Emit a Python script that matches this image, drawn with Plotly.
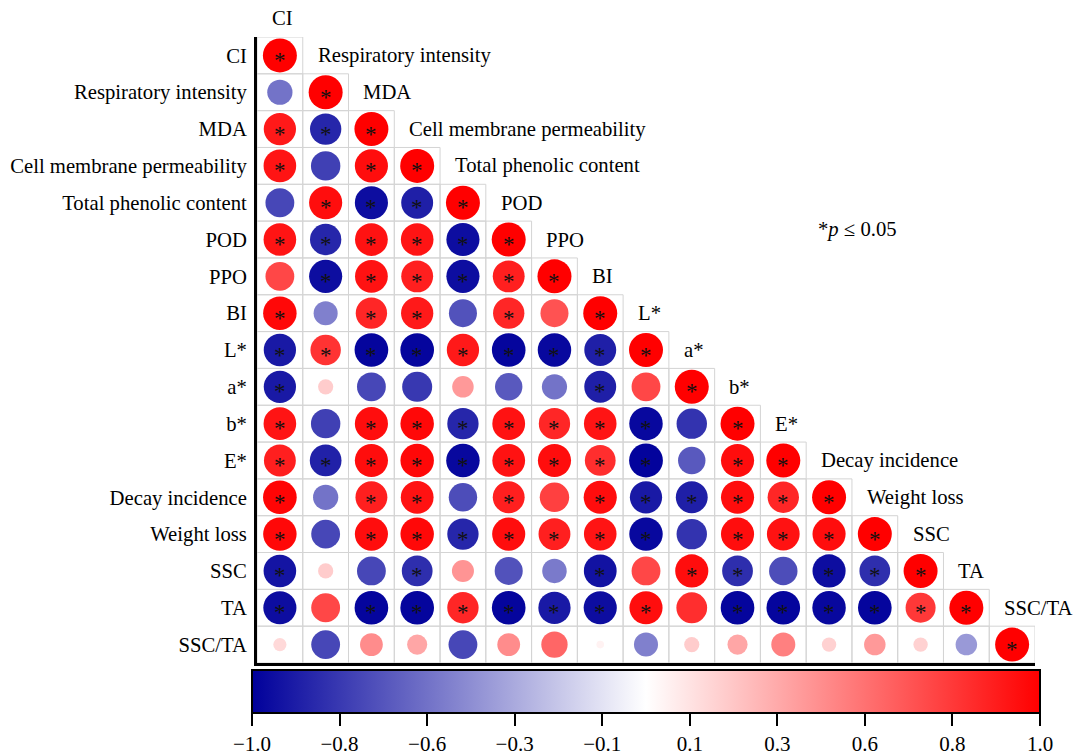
import numpy as np
import plotly.graph_objects as go

variables = ["CI", "Respiratory intensity", "MDA", "Cell membrane permeability",
             "Total phenolic content", "POD", "PPO", "BI", "L*", "a*", "b*", "E*",
             "Decay incidence", "Weight loss", "SSC", "TA", "SSC/TA"]

# lower triangle correlations (row i, columns 0..i-1); diagonal = 1
r_RI = [-0.55]
r_MDA = [0.90, -0.85]
r_CMP = [0.92, -0.75, 0.95]
r_TPC = [-0.72, 0.95, -0.95, -0.88]
r_POD = [0.92, -0.85, 0.93, 0.92, -0.95]
r_PPO = [0.72, -0.95, 0.93, 0.88, -0.95, 0.88]
r_BI = [0.97, -0.50, 0.85, 0.90, -0.68, 0.85, 0.68]
r_L = [-0.90, 0.80, -0.98, -0.98, 0.90, -0.98, -0.97, -0.88]
r_a = [-0.90, 0.20, -0.72, -0.78, 0.40, -0.65, -0.55, -0.88, 0.72]
r_b = [0.92, -0.75, 0.95, 0.97, -0.85, 0.93, 0.85, 0.92, -0.97, -0.80]
r_E = [0.88, -0.87, 0.95, 0.97, -0.97, 0.93, 0.95, 0.82, -0.99, -0.65, 0.95]
r_DI = [0.98, -0.55, 0.88, 0.93, -0.70, 0.88, 0.75, 0.95, -0.90, -0.88, 0.95, 0.85]
r_WL = [0.97, -0.72, 0.95, 0.97, -0.85, 0.95, 0.88, 0.92, -0.97, -0.80, 0.95, 0.93, 0.95]
r_SSC = [-0.92, 0.20, -0.72, -0.82, 0.42, -0.68, -0.52, -0.93, 0.72, 0.95, -0.82, -0.70, -0.95, -0.82]
r_TA = [-0.95, 0.72, -0.98, -0.98, 0.85, -0.98, -0.90, -0.95, 0.95, 0.82, -0.98, -0.98, -0.97, -0.98, 0.78]
r_SSCTA = [0.15, -0.72, 0.45, 0.35, -0.72, 0.45, 0.60, 0.05, -0.50, 0.20, 0.35, 0.50, 0.18, 0.40, 0.18, -0.40]

# significance (p <= 0.05) flags, same layout as above
s_RI = "0"
s_MDA = "11"
s_CMP = "101"
s_TPC = "0111"
s_POD = "11111"
s_PPO = "011111"
s_BI = "1011010"
s_L = "11111111"
s_a = "100000010"
s_b = "1011111110"
s_E = "11111111101"
s_DI = "101101011111"
s_WL = "1011111110111"
s_SSC = "10010001011011"
s_TA = "101111111011111"
s_SSCTA = "0000000000000000"

# colour bar tick labels
cbar_ticktext = ["−1.0", "−0.8", "−0.6", "−0.3", "−0.1", "0.1", "0.3", "0.6", "0.8", "1.0"]

rows_r = [[], r_RI, r_MDA, r_CMP, r_TPC, r_POD, r_PPO, r_BI, r_L, r_a, r_b, r_E,
          r_DI, r_WL, r_SSC, r_TA, r_SSCTA]
rows_s = ["", s_RI, s_MDA, s_CMP, s_TPC, s_POD, s_PPO, s_BI, s_L, s_a, s_b, s_E,
          s_DI, s_WL, s_SSC, s_TA, s_SSCTA]

xs, ys, vals, sig = [], [], [], []
for i, (rr, ss) in enumerate(zip(rows_r, rows_s)):
    for j in range(i + 1):
        v = 1.0 if j == i else rr[j]
        s = True if j == i else ss[j] == "1"
        xs.append(j); ys.append(i); vals.append(v); sig.append(s)

vals = np.array(vals)
sizes = 34 * np.sqrt(np.abs(vals))

colorscale = [[0.0, "rgb(0,0,155)"], [0.5, "rgb(255,255,255)"], [1.0, "rgb(255,0,0)"]]
font_family = "Liberation Serif"
label_size = 20.7

fig = go.Figure()

# grid cells
shapes = []
for x, y in zip(xs, ys):
    shapes.append(dict(type="rect", xref="x", yref="y", x0=x - 0.5, x1=x + 0.5,
                       y0=y - 0.5, y1=y + 0.5, line=dict(color="#d4d4d4", width=1),
                       layer="below"))

tickvals = np.linspace(-1, 1, len(cbar_ticktext))

fig.add_trace(go.Scatter(
    x=xs, y=ys, mode="markers",
    marker=dict(size=sizes, color=vals, cmin=-1, cmax=1, colorscale=colorscale,
                line=dict(width=0), opacity=1,
                colorbar=dict(orientation="h", x=0.5, xanchor="center", y=-0.0112,
                              yanchor="top", len=788, lenmode="pixels", thickness=43,
                              thicknessmode="pixels", outlinecolor="black", outlinewidth=2,
                              tickvals=tickvals, ticktext=cbar_ticktext, ticks="outside",
                              ticklen=12, tickwidth=1.5, tickcolor="black",
                              tickfont=dict(family=font_family, size=21, color="black"),
                              xpad=0, ypad=0)),
    hoverinfo="skip", showlegend=False))

annotations = []
# significance asterisks
for x, y, s in zip(xs, ys, sig):
    if s:
        annotations.append(dict(x=x, y=y, xref="x", yref="y", text="*", showarrow=False,
                                xanchor="center", yanchor="middle", yshift=-5,
                                font=dict(family=font_family, size=23, color="#111")))

# diagonal labels
for k, name in enumerate(variables):
    if k == 0:
        annotations.append(dict(x=k - 0.22, y=1.0303, xref="x", yref="paper", text=name,
                                showarrow=False, xanchor="left", yanchor="middle",
                                font=dict(family=font_family, size=label_size, color="black")))
    else:
        annotations.append(dict(x=k - 0.22, y=k - 1, xref="x", yref="y", text=name,
                                showarrow=False, xanchor="left", yanchor="middle",
                                font=dict(family=font_family, size=label_size, color="black")))
annotations.append(dict(x=0.772, y=0.693, xref="paper", yref="paper",
                        text="*<i>p</i> ≤ 0.05", showarrow=False,
                        xanchor="center", yanchor="middle",
                        font=dict(family=font_family, size=label_size, color="black")))

fig.update_layout(
    width=1073, height=756,
    margin=dict(l=257, r=38, t=37, b=93, autoexpand=False),
    paper_bgcolor="white", plot_bgcolor="white",
    shapes=shapes, annotations=annotations,
    xaxis=dict(range=[-0.5, 16.5], showgrid=False, zeroline=False, showticklabels=False,
               showline=True, linecolor="black", linewidth=3, ticks=""),
    yaxis=dict(range=[16.5, -0.5], showgrid=False, zeroline=False,
               tickvals=list(range(17)), ticktext=variables,
               tickfont=dict(family=font_family, size=label_size, color="black"),
               showline=True, linecolor="black", linewidth=3, ticks="",
               ticklabelstandoff=3),
)

fig.write_html("out.html")
